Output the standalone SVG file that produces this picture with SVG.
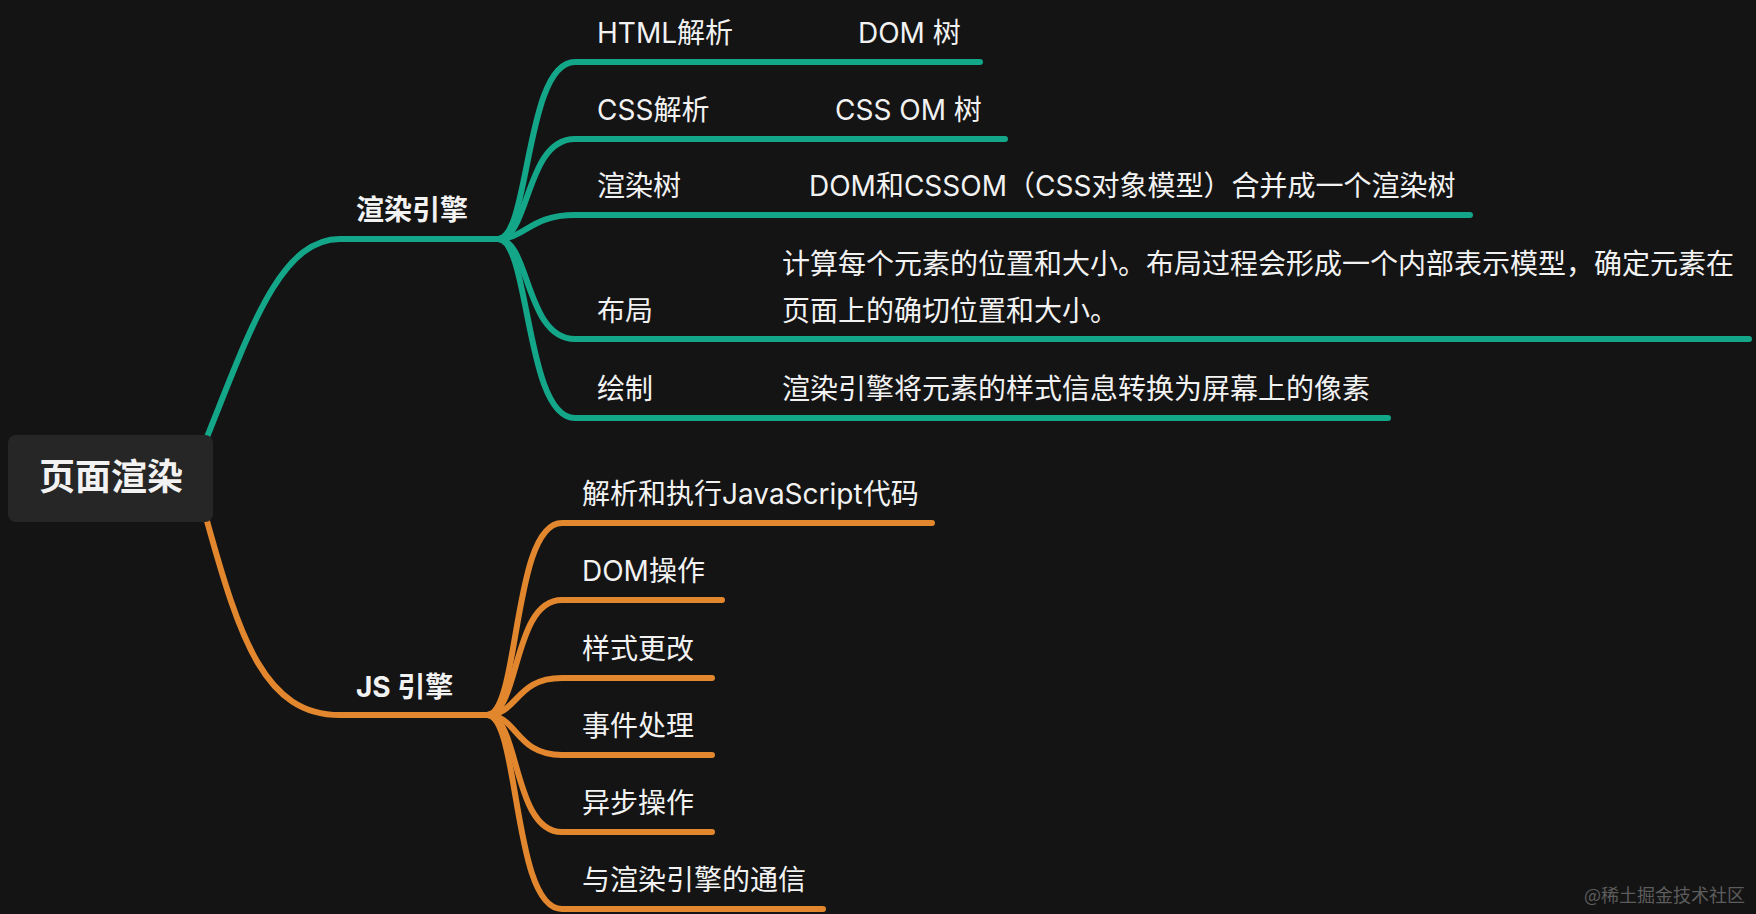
<svg xmlns="http://www.w3.org/2000/svg" width="1756" height="914" viewBox="0 0 1756 914">
<style>
.bg{fill:#141414}
.t{fill:#f2f2f2;font-family:Inter,"Noto Sans CJK SC",sans-serif;font-size:28px}
.b{font-weight:bold}
.teal{fill:none;stroke:#14a688;stroke-width:6;stroke-linecap:round}
.orange{fill:none;stroke:#e2872e;stroke-width:6;stroke-linecap:round}
.wm{fill:#5c5c5c;font-family:"Noto Sans CJK SC","Noto Sans",sans-serif;font-size:18px}
</style>
<rect class="bg" x="0" y="0" width="1756" height="914"/>
<g id="connectors">
  <path class="teal" d="M207,437 C250,330 280,239 340,239 L498,239"/>
  <path class="teal" d="M498,239 C530,239 525,62 575,62 L980,62"/>
  <path class="teal" d="M498,239 C530,239 525,139 575,139 L1005,139"/>
  <path class="teal" d="M498,239 C525,239 530,215 575,215 L1470,215"/>
  <path class="teal" d="M498,239 C530,239 525,339 575,339 L1749,339"/>
  <path class="teal" d="M498,239 C530,239 525,418 575,418 L1388,418"/>
  <path class="orange" d="M207,521 C240,640 265,715 340,715 L487,715"/>
  <path class="orange" d="M487,715 C520,715 512,523 562,523 L932,523"/>
  <path class="orange" d="M487,715 C520,715 512,600 562,600 L722,600"/>
  <path class="orange" d="M487,715 C518,715 515,678 562,678 L712,678"/>
  <path class="orange" d="M487,715 C518,715 515,755 562,755 L712,755"/>
  <path class="orange" d="M487,715 C520,715 512,832 562,832 L712,832"/>
  <path class="orange" d="M487,715 C520,715 512,909 562,909 L823,909"/>
</g>
<g id="root">
  <rect x="8" y="435" width="205" height="87" rx="8" fill="#262626"/>
  <text class="t b" x="111" y="490" text-anchor="middle" style="font-size:36px">页面渲染</text>
</g>
<g id="render-engine">
  <text class="t b" x="356" y="220">渲染引擎</text>
</g>
<g id="html-parse">
  <text class="t" x="597" y="43">HTML解析</text>
  <text class="t" x="858" y="43">DOM 树</text>
</g>
<g id="css-parse">
  <text class="t" x="597" y="120">CSS解析</text>
  <text class="t" x="835" y="120">CSS OM 树</text>
</g>
<g id="render-tree">
  <text class="t" x="597" y="196">渲染树</text>
  <text class="t" x="809" y="196">DOM和CSSOM（CSS对象模型）合并成一个渲染树</text>
</g>
<g id="layout">
  <text class="t" x="597" y="321">布局</text>
  <text class="t" x="782" y="274">计算每个元素的位置和大小。布局过程会形成一个内部表示模型，确定元素在</text>
  <text class="t" x="782" y="321">页面上的确切位置和大小。</text>
</g>
<g id="paint">
  <text class="t" x="597" y="399">绘制</text>
  <text class="t" x="782" y="399">渲染引擎将元素的样式信息转换为屏幕上的像素</text>
</g>
<g id="js-engine">
  <text class="t b" x="356" y="697">JS 引擎</text>
</g>
<g id="js-parse"><text class="t" x="582" y="504">解析和执行JavaScript代码</text></g>
<g id="js-dom"><text class="t" x="582" y="581">DOM操作</text></g>
<g id="js-style"><text class="t" x="582" y="659">样式更改</text></g>
<g id="js-event"><text class="t" x="582" y="736">事件处理</text></g>
<g id="js-async"><text class="t" x="582" y="813">异步操作</text></g>
<g id="js-comm"><text class="t" x="582" y="890">与渲染引擎的通信</text></g>
<text class="wm" x="1745" y="902" text-anchor="end">@稀土掘金技术社区</text>
</svg>
